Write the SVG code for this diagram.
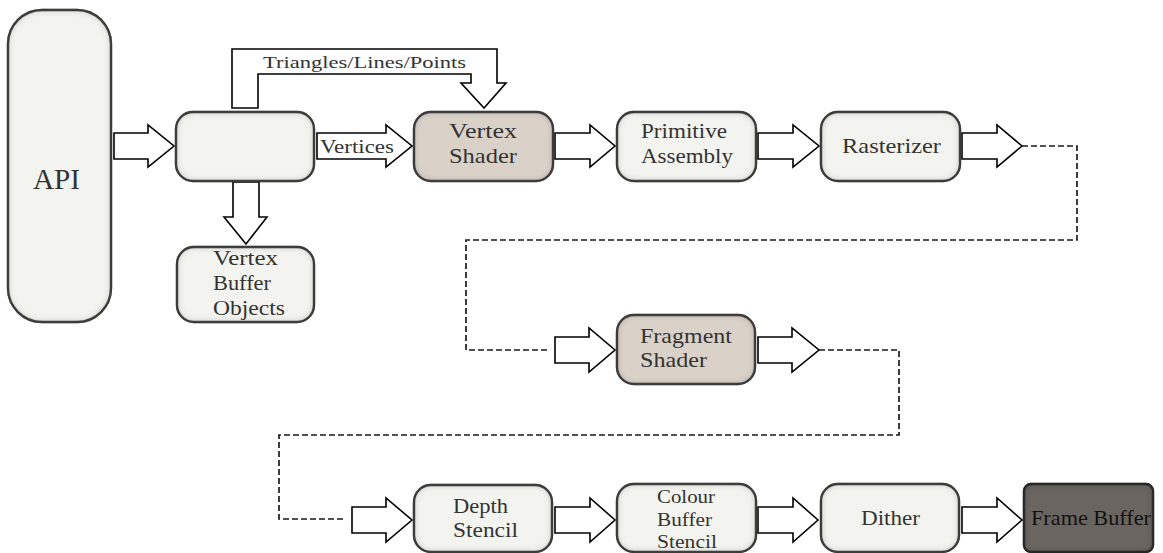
<svg xmlns="http://www.w3.org/2000/svg" width="1163" height="553" viewBox="0 0 1163 553">
<style>
.box{fill:#f3f3ef;stroke:#4a4a4a;stroke-width:2.4;filter:url(#inner)}
.shader{fill:#dad2c9}
.fb{fill:#6b6560;stroke:#333}
.arr{fill:#fff;stroke:#000;stroke-width:1.6;stroke-linejoin:miter}
.dash{fill:none;stroke:#1a1a1a;stroke-width:1.7;stroke-dasharray:6 3}
text{font-family:"Liberation Serif","DejaVu Serif",serif;fill:#333;font-size:21px}
.sm{font-size:19px}
.fbt{fill:#111}
</style>
<defs>
<filter id="inner" x="-10%" y="-10%" width="120%" height="120%">
<feFlood flood-color="#000" flood-opacity="0.75" result="f"/>
<feComposite in="f" in2="SourceAlpha" operator="out" result="o"/>
<feGaussianBlur in="o" stdDeviation="3.5" result="b"/>
<feComposite in="b" in2="SourceAlpha" operator="in" result="s"/>
<feMerge><feMergeNode in="SourceGraphic"/><feMergeNode in="s"/></feMerge>
</filter>
</defs>

<g id="connectors">
<path class="arr" d="M114,133 H148 V125 L174,146 L148,167 V159 H114 Z"/>
<path class="arr" d="M317,133 H386 V125 L412,146 L386,167 V159 H317 Z"/>
<path class="arr" d="M555,133 H590 V125 L615,146 L590,167 V159 H555 Z"/>
<path class="arr" d="M758,133 H793 V125 L819,146 L793,167 V159 H758 Z"/>
<path class="arr" d="M962,133 H997 V125 L1022,146 L997,167 V159 H962 Z"/>
<path class="arr" d="M233,182 V217 H224 L246,244 L267,217 H259 V182 Z"/>
<path class="arr" d="M232,108 V49 H497 V83 H506 L484,108 L461,83 H471 V74 H258 V108 Z"/>
<path class="dash" d="M1022,146 H1077 V240 H466 V350 H550"/>
<path class="arr" d="M555,337 H589 V328 L615,350 L589,372 V363 H555 Z"/>
<path class="arr" d="M758,337 H792 V328 L819,350 L792,372 V363 H758 Z"/>
<path class="dash" d="M819,350 H899 V435 H279 V519 H345"/>
<path class="arr" d="M352,507 H386 V498 L412,520 L386,542 V533 H352 Z"/>
<path class="arr" d="M555,507 H590 V498 L615,520 L590,542 V533 H555 Z"/>
<path class="arr" d="M758,507 H793 V498 L818,520 L793,542 V533 H758 Z"/>
<path class="arr" d="M962,507 H997 V498 L1022,520 L997,542 V533 H962 Z"/>
<text x="263" y="68" textLength="203" lengthAdjust="spacingAndGlyphs" style="font-size:17px">Triangles/Lines/Points</text>
<text x="320" y="153" textLength="74" lengthAdjust="spacingAndGlyphs" style="font-size:19px">Vertices</text>
</g>

<g id="api">
<rect class="box" x="8" y="10" width="103" height="312" rx="34" ry="34"/>
<text x="33" y="189" textLength="47" lengthAdjust="spacingAndGlyphs" style="font-size:29px">API</text>
</g>

<g id="input">
<rect class="box" x="176" y="112" width="138" height="69" rx="17" ry="17"/>
</g>

<g id="vbo">
<rect class="box" x="177" y="247" width="137" height="75" rx="17" ry="17"/>
<text x="213" y="265" textLength="65" lengthAdjust="spacingAndGlyphs">Vertex</text>
<text x="213" y="290" textLength="58" lengthAdjust="spacingAndGlyphs">Buffer</text>
<text x="213" y="315" textLength="72" lengthAdjust="spacingAndGlyphs">Objects</text>
</g>

<g id="vertex-shader">
<rect class="box shader" x="414" y="112" width="139" height="69" rx="17" ry="17"/>
<text x="449" y="138" textLength="68" lengthAdjust="spacingAndGlyphs">Vertex</text>
<text x="449" y="163" textLength="68" lengthAdjust="spacingAndGlyphs">Shader</text>
</g>

<g id="primitive-assembly">
<rect class="box" x="617" y="112" width="139" height="69" rx="17" ry="17"/>
<text x="641" y="138" textLength="86" lengthAdjust="spacingAndGlyphs">Primitive</text>
<text x="641" y="163" textLength="92" lengthAdjust="spacingAndGlyphs">Assembly</text>
</g>

<g id="rasterizer">
<rect class="box" x="821" y="112" width="139" height="69" rx="17" ry="17"/>
<text x="842" y="153" textLength="99" lengthAdjust="spacingAndGlyphs">Rasterizer</text>
</g>

<g id="fragment-shader">
<rect class="box shader" x="617" y="315" width="138" height="69" rx="17" ry="17"/>
<text x="640" y="343" textLength="92" lengthAdjust="spacingAndGlyphs">Fragment</text>
<text x="640" y="367" textLength="67" lengthAdjust="spacingAndGlyphs">Shader</text>
</g>

<g id="depth-stencil">
<rect class="box" x="414" y="485" width="138" height="67" rx="17" ry="17"/>
<text x="453" y="513" textLength="55" lengthAdjust="spacingAndGlyphs">Depth</text>
<text x="453" y="537" textLength="65" lengthAdjust="spacingAndGlyphs">Stencil</text>
</g>

<g id="colour-buffer-stencil">
<rect class="box" x="617" y="484" width="139" height="68" rx="17" ry="17"/>
<text class="sm" x="657" y="503" textLength="58" lengthAdjust="spacingAndGlyphs">Colour</text>
<text class="sm" x="657" y="526" textLength="55" lengthAdjust="spacingAndGlyphs">Buffer</text>
<text class="sm" x="657" y="548" textLength="60" lengthAdjust="spacingAndGlyphs">Stencil</text>
</g>

<g id="dither">
<rect class="box" x="821" y="484" width="138" height="68" rx="17" ry="17"/>
<text x="861" y="525" textLength="59" lengthAdjust="spacingAndGlyphs">Dither</text>
</g>

<g id="frame-buffer">
<rect class="box fb" x="1024" y="484" width="129" height="68" rx="7" ry="7"/>
<text class="fbt" x="1031" y="525" textLength="120" lengthAdjust="spacingAndGlyphs">Frame Buffer</text>
</g>
</svg>
